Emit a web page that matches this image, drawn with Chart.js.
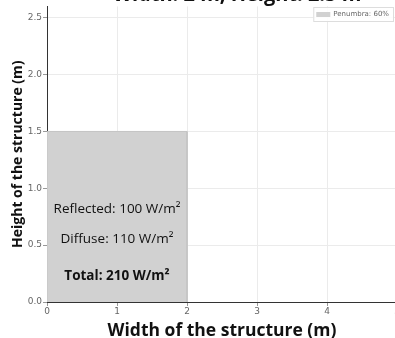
<!DOCTYPE html>
<html>
<head>
<meta charset="utf-8">
<script src="https://cdn.jsdelivr.net/npm/chart.js@4.4.0/dist/chart.umd.min.js"></script>
<style>
  html, body { margin: 0; padding: 0; background: #fff; overflow: hidden; }
  #wrap { position: relative; width: 402px; height: 338px; }
</style>
</head>
<body>
<div id="wrap"><canvas id="c"></canvas></div>
<script>
// structure outline (m)
const structX = [0, 0, 2, 2];
const structY = [0, 1.5, 1.5, 0];
const xTicks = [0, 1, 2, 3, 4, 5];
const yTicks = [0, 0.5, 1.0, 1.5, 2.0, 2.5];

// annotations inside the shaded area
const labelText = ['Reflected: 100 W/m²', 'Diffuse: 110 W/m²', 'Total: 210 W/m²'];
const labelX = [1, 1, 1];
const labelY = [0.815, 0.55, 0.225];
const labelBold = [false, false, true];

const titleText = 'Width: 2 m, Height: 2.5 m';
const legendText = 'Penumbra: 60%';

const extras = {
    id: 'extras',
    afterDatasetsDraw(chart) {
        const { ctx, scales: { x, y } } = chart;
        ctx.save();
        ctx.textAlign = 'center';
        ctx.textBaseline = 'middle';
        ctx.fillStyle = '#111';
        labelText.forEach((t, i) => {
            ctx.font = (labelBold[i] ? 'bold ' : '') + '13.5px "Open Sans"';
            ctx.fillText(t, x.getPixelForValue(labelX[i]), y.getPixelForValue(labelY[i]));
        });
        // title, mostly cropped at the top
        ctx.font = 'bold 20px "Open Sans"';
        ctx.textBaseline = 'alphabetic';
        ctx.fillText(titleText, 237, 1);
        // legend box
        const ds = chart.data.datasets[0];
        ctx.font = '7px "DejaVu Sans"';
        const w = ctx.measureText(legendText).width + 24;
        const lx = 393 - w, ly = 7;
        ctx.fillStyle = 'rgba(255,255,255,0.9)';
        ctx.strokeStyle = '#ddd';
        ctx.lineWidth = 1;
        ctx.fillRect(lx, ly, w, 14);
        ctx.strokeRect(lx + 0.5, ly + 0.5, w, 14);
        ctx.fillStyle = ds.backgroundColor;
        ctx.fillRect(lx + 3, ly + 5, 14, 5);
        ctx.fillStyle = '#666';
        ctx.textAlign = 'left';
        ctx.textBaseline = 'middle';
        ctx.fillText(legendText, lx + 20, ly + 7.5);
        ctx.restore();
    }
};

new Chart(document.getElementById('c'), {
    type: 'scatter',
    data: {
        datasets: [{
            label: legendText,
            data: structX.map((v, i) => ({ x: v, y: structY[i] })),
            showLine: true,
            fill: 'origin',
            backgroundColor: '#d1d1d1',
            borderColor: '#c4c4c4',
            borderWidth: 1,
            pointRadius: 0,
            tension: 0
        }]
    },
    options: {
        responsive: true,
        maintainAspectRatio: false,
        animation: false,
        layout: { padding: { top: 2, right: 5, left: 0, bottom: 0 } },
        plugins: { legend: { display: false }, tooltip: { enabled: false } },
        scales: {
            x: {
                type: 'linear', min: 0, max: 5,
                afterBuildTicks: s => { s.ticks = xTicks.map(v => ({ value: v })); },
                afterFit: s => { s.height = 36; },
                grid: { color: '#ebebeb', tickLength: 4, tickColor: '#999' },
                border: { color: '#333', width: 1 },
                ticks: { color: '#666', font: { size: 9, family: 'DejaVu Sans' }, padding: 0, maxRotation: 0 },
                title: { display: true, text: 'Width of the structure (m)', color: '#111',
                         font: { size: 17.5, weight: 'bold', family: 'Open Sans' }, padding: { top: 4, bottom: -4 } }
            },
            y: {
                type: 'linear', min: 0, max: 2.6,
                afterBuildTicks: s => { s.ticks = yTicks.map(v => ({ value: v })); },
                afterFit: s => { s.width = 47; },
                grid: { color: '#ebebeb', tickLength: 4, tickColor: '#999' },
                border: { color: '#333', width: 1 },
                ticks: { color: '#666', font: { size: 9, family: 'DejaVu Sans' }, padding: 1,
                         callback: v => v.toFixed(1) },
                title: { display: true, text: 'Height of the structure (m)', color: '#111',
                         font: { size: 14, weight: 'bold', family: 'Open Sans' }, padding: { top: 10, bottom: 0 } }
            }
        }
    },
    plugins: [extras]
});
</script>
</body>
</html>
